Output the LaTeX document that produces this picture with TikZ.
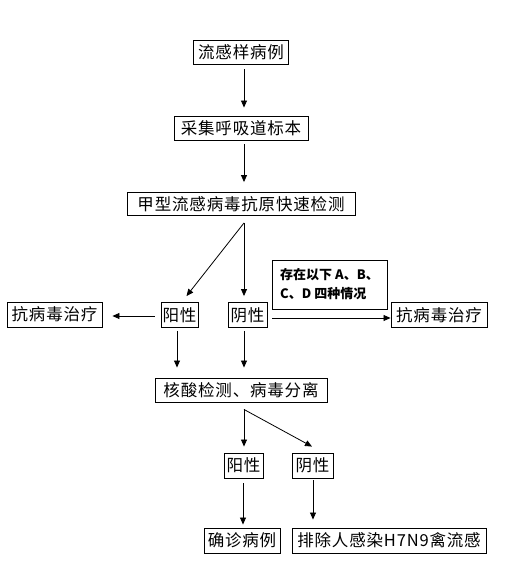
\documentclass[tikz,border=0pt]{standalone}
\usepackage{fontspec}
\setmainfont{Noto Sans CJK SC}
\usetikzlibrary{arrows.meta}
\tikzset{
  box/.style={draw, line width=0.9pt, inner sep=0pt, minimum height=24pt, font=\fontsize{16.5}{18}\selectfont\addfontfeature{LetterSpace=5}},
  notebox/.style={draw, line width=0.9pt, inner sep=0pt, minimum width=115pt, minimum height=49pt, align=left, font=\bfseries\fontsize{13}{19}\selectfont},
  arr/.style={line width=0.8pt, -{Triangle[length=7pt,width=6pt]}}
}
\begin{document}
\begin{tikzpicture}[x=1pt,y=-1pt]
\useasboundingbox (0,0) rectangle (504,568);
\node[box, minimum width=95pt] (b1) at (241,52) {流感样病例};
\node[box, minimum width=134pt] (b2) at (241,128) {采集呼吸道标本};
\node[box, minimum width=228pt, minimum height=23pt] (b3) at (241,204) {甲型流感病毒抗原快速检测};
\node[notebox] (note) at (329.5,284.5) {存在以下 A、B、\\C、D 四种情况};
\node[box, minimum width=95pt, minimum height=25pt] (L) at (54.5,314.5) {抗病毒治疗};
\node[box, minimum width=37pt, minimum height=25pt] (yang1) at (179.5,315) {阳性};
\node[box, minimum width=39pt, minimum height=25pt] (yin1) at (247.5,315) {阴性};
\node[box, minimum width=96pt, minimum height=25pt] (R) at (439,315) {抗病毒治疗};
\node[box, minimum width=172pt] (b4) at (241,390) {核酸检测、病毒分离};
\node[box, minimum width=39pt, minimum height=25pt] (yang2) at (243.5,465.5) {阳性};
\node[box, minimum width=41pt, minimum height=25pt] (yin2) at (312.5,465.5) {阴性};
\node[box, minimum width=76pt, minimum height=25pt] (c1) at (242,540.5) {确诊病例};
\node[box, minimum width=194pt, minimum height=25pt] (c2) at (389,540.5) {排除人感染H7N9禽流感};
% connectors
\draw[arr] ([xshift=3pt,yshift=-5pt]b1.south) -- ([xshift=3pt,yshift=8pt]b2.north);
\draw[arr] ([xshift=3pt,yshift=-4pt]b2.south) -- ([xshift=3pt,yshift=10pt]b3.north);
\coordinate (s1) at ([xshift=3pt,yshift=-7pt]b3.south);
\draw[arr] (s1) -- ([xshift=7pt,yshift=6pt]yang1.north);
\draw[arr] (s1) -- ([xshift=-3.5pt,yshift=6pt]yin1.north);
\draw[arr] ([xshift=-6pt,yshift=-1pt]yang1.west) -- ([xshift=10pt,yshift=-1.5pt]L.east);
\draw[arr] ([xshift=5pt,yshift=-3pt]yin1.east) -- ([yshift=-3pt]R.west);
\draw[arr] ([xshift=-2.5pt,yshift=-3pt]yang1.south) -- ([xshift=-64pt,yshift=10pt]b4.north);
\draw[arr] ([xshift=-3.5pt,yshift=-3pt]yin1.south) -- ([xshift=3pt,yshift=10pt]b4.north);
\coordinate (s2) at ([xshift=3pt,yshift=-7pt]b4.south);
\draw[arr] (s2) -- ([xshift=0.5pt,yshift=6pt]yang2.north);
\draw[arr] (s2) -- ([xshift=-0.5pt,yshift=6pt]yin2.north);
\draw[arr] ([xshift=-0.5pt,yshift=-5pt]yang2.south) -- ([xshift=1pt,yshift=3pt]c1.north);
\draw[arr] ([xshift=0.5pt,yshift=-2pt]yin2.south) -- ([xshift=-76pt,yshift=8pt]c2.north);
\end{tikzpicture}
\end{document}
